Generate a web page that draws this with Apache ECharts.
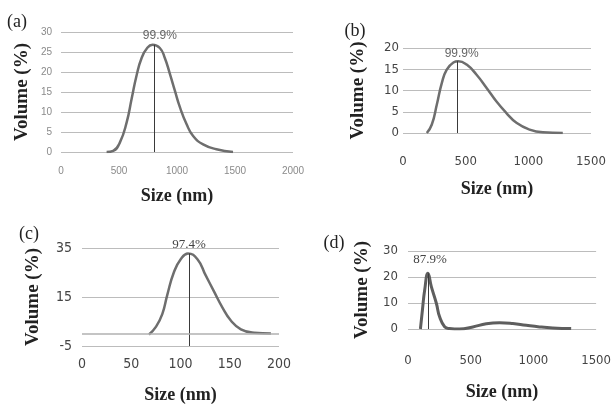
<!DOCTYPE html>
<html>
<head>
<meta charset="utf-8">
<script src="https://cdn.jsdelivr.net/npm/echarts@6/dist/echarts.min.js"></script>
<style>
  html, body { margin: 0; padding: 0; background: #fff; }
  #chart { width: 614px; height: 405px; }
</style>
</head>
<body>
<div id="chart"></div>
<script>
// (a)
const sizeA = [393, 450, 508, 566, 609, 652, 695, 743, 789, 852, 895, 938, 981, 1025, 1082, 1139, 1225, 1340, 1483]
const volA = [0, 0.3, 2.4, 7.4, 13.3, 19.2, 23.5, 26, 26.8, 26, 23.5, 19.6, 15.4, 11.2, 7, 4.0, 1.9, 0.7, 0]
const peakA = [800, 26.8, '99.9%']
// (b)
const sizeB = [190, 230, 270, 310, 349, 402, 441, 508, 587, 667, 746, 825, 905, 1010, 1116, 1275]
const volB = [0, 2, 6.7, 11.8, 14.9, 16.6, 16.9, 16.1, 13.7, 10.6, 7.4, 4.7, 2.4, 0.8, 0.15, 0]
const peakB = [436, 16.9, '99.9%']
// (c)
const sizeC = [68, 75, 81.5, 86.6, 93.3, 100.2, 107.6, 117.2, 125.6, 134.1, 142.6, 151.1, 161.3, 174.8, 191.8]
const volC = [-0.3, 2.8, 8, 15.9, 25.1, 30.4, 32.8, 30.4, 23.8, 17.2, 10.7, 5.4, 1.8, 0.4, 0.1]
const peakC = [108.6, 32.8, '97.4%']
// (d)
const sizeD = [99, 115, 133, 159, 186, 226, 252, 292, 330, 411, 517, 624, 730, 836, 943, 1049, 1155, 1301]
const volD = [0, 7.3, 15, 21.4, 16.3, 9.9, 4.7, 0.9, 0.2, 0, 0.8, 2.0, 2.4, 2.1, 1.4, 0.8, 0.4, 0.15]
const peakD = [159, 21.4, '87.9%']

const xRanges = [[0, 2000, 500], [0, 1500, 500], [0, 200, 50], [0, 1500, 500]]
const yRanges = [[0, 30, 5], [0, 20, 5], [-5, 35, 20], [0, 30, 10]]
const panelTags = ['(a)', '(b)', '(c)', '(d)']

const serif = '"Liberation Serif", "Times New Roman", serif'
const sans = '"Liberation Sans", Arial, sans-serif'
const narrow = '"Liberation Sans Narrow", "DejaVu Sans Condensed", sans-serif'

const grids = [
  { left: 61, top: 32, width: 232, height: 120 },
  { left: 403, top: 48, width: 188, height: 85 },
  { left: 82, top: 248, width: 197, height: 100 },
  { left: 408, top: 251, width: 189, height: 78 }
]
const tickStyle = [
  { fontFamily: sans, fontSize: 10, color: '#8a8a8a' },
  { fontFamily: narrow, fontSize: 13, color: '#444' },
  { fontFamily: narrow, fontSize: 14, color: '#444' },
  { fontFamily: narrow, fontSize: 13, color: '#444' }
]
const xLabelMargin = [14, 22, 11, 25]
const yLabelMargin = [9, 4, 10, 10]
const xNameGap = [35, 47, 40, 54]
const yNameGap = [29, 35, 39, 36]
const tagPos = [[17, 22], [355, 31], [29, 234], [334, 243]]
const annot = [
  { fontFamily: sans, fontSize: 12, color: '#666', offset: [6, 0], distance: 3 },
  { fontFamily: sans, fontSize: 12, color: '#666', offset: [4, 0], distance: 1 },
  { fontFamily: serif, fontSize: 13, color: '#444', offset: [0, 0], distance: 2 },
  { fontFamily: serif, fontSize: 13, color: '#444', offset: [2, 0], distance: 7 }
]

const seriesData = [[sizeA, volA, peakA], [sizeB, volB, peakB], [sizeC, volC, peakC], [sizeD, volD, peakD]]

const xTitleStyle = { fontFamily: serif, fontWeight: 'bold', fontSize: 18, color: '#222' }
const yTitleStyle = { fontFamily: serif, fontWeight: 'bold', fontSize: 19, color: '#222' }

const option = {
  animation: false,
  backgroundColor: '#fff',
  grid: grids,
  xAxis: xRanges.map((r, i) => ({
    type: 'value',
    gridIndex: i,
    min: r[0],
    max: r[1],
    interval: r[2],
    name: 'Size (nm)',
    nameLocation: 'middle',
    nameGap: xNameGap[i],
    nameTextStyle: xTitleStyle,
    axisLine: { show: false },
    axisTick: { show: false },
    splitLine: { show: false },
    axisLabel: Object.assign({ margin: xLabelMargin[i], formatter: v => String(v) }, tickStyle[i])
  })),
  yAxis: yRanges.map((r, i) => ({
    type: 'value',
    gridIndex: i,
    min: r[0],
    max: r[1],
    interval: r[2],
    name: 'Volume (%)',
    nameLocation: 'middle',
    nameGap: yNameGap[i],
    nameTextStyle: yTitleStyle,
    axisLine: { show: false },
    axisTick: { show: false },
    splitLine: { show: true, lineStyle: { color: '#bcbcbc', width: 1, type: 'solid' } },
    axisLabel: Object.assign({ margin: yLabelMargin[i], formatter: v => String(v) }, tickStyle[i])
  })),
  series: seriesData.map((d, i) => {
    const [xs, ys, pk] = d
    const base = yRanges[i][0] < 0 ? yRanges[i][0] : 0
    const lines = [
      [
        { coord: [pk[0], base] },
        { coord: [pk[0], pk[1]] }
      ]
    ]
    // (c) has its zero line drawn above the -5 bottom line
    if (yRanges[i][0] < 0) {
      lines.push([
        { coord: [xRanges[i][0], 0], label: { show: false }, lineStyle: { color: '#b0b0b0', width: 1.5 } },
        { coord: [xRanges[i][1], 0] }
      ])
    }
    return {
      type: 'line',
      xAxisIndex: i,
      yAxisIndex: i,
      data: xs.map((x, k) => [x, ys[k]]),
      smooth: 0.5,
      showSymbol: false,
      z: 3,
      lineStyle: { color: i === 3 ? '#5e5e5e' : '#6e6e6e', width: i === 3 ? 3 : 2.5 },
      markLine: {
        silent: true,
        symbol: 'none',
        lineStyle: { type: 'solid', color: '#3a3a3a', width: 1 },
        label: {
          show: true,
          position: 'end',
          formatter: pk[2],
          distance: annot[i].distance,
          offset: annot[i].offset,
          fontFamily: annot[i].fontFamily,
          fontSize: annot[i].fontSize,
          color: annot[i].color
        },
        data: lines
      }
    }
  }),
  graphic: panelTags.map((t, i) => ({
    type: 'text',
    x: tagPos[i][0],
    y: tagPos[i][1],
    style: {
      text: t,
      fontFamily: serif,
      fontSize: 18,
      fill: '#222',
      align: 'center',
      verticalAlign: 'middle'
    }
  }))
}

const chart = echarts.init(document.getElementById('chart'))
chart.setOption(option)
</script>
</body>
</html>
